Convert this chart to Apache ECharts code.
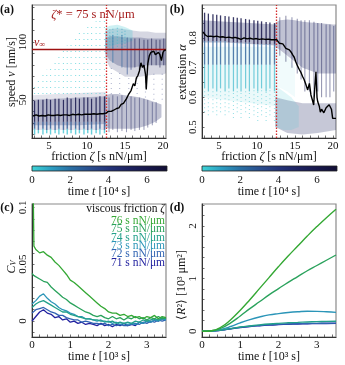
<!DOCTYPE html>
<html>
<head>
<meta charset="utf-8">
<script src="https://cdn.jsdelivr.net/npm/echarts@6/dist/echarts.min.js"></script>
<style>
html,body{margin:0;padding:0;background:#fff;}
#chart{width:345px;height:365px;}
</style>
</head>
<body>
<div id="chart"></div>
<script>
var FONT = 'Liberation Serif';

// ---- colour map of the time colour bar [10^4 s]
var cmapStops = [[0,'#3dd4d6'],[1,'#2c9fc2'],[2,'#2a70a4'],[3,'#2a4f8e'],[4,'#24347a'],[5,'#1d2361'],[6,'#17174b'],[7.05,'#110e34']];
var cbRange = [0, 7.05];
var cbTicks = [0, 2, 4, 6];

// ---- markers
var zetaStar = 12.5;
var vInf = 94;

// ---- panel (a): speed scatter, rows are [zeta, low, high, time]
var aLeftBand = [[2.8,28,50],[6,28,51],[9,28,52],[12.5,29,53]];
var aLeftHalo = [[2.8,24,54],[6,24,55],[9,24,56],[12.5,24,57]];
var aCoreL = [[3.1,31,49,5.8],[3.6,31,50,5.8],[4.2,31,50,5.8],[4.7,31,51,5.8],[5.2,31,50,5.8],[5.8,31,51,5.8],[6.3,31,51,5.8],[6.9,31,50,5.8],[7.4,31,52,5.8],[7.9,31,51,5.8],[8.5,31,52,5.8],[9.0,31,51,5.8],[9.6,31,52,5.8],[10.1,31,52,5.8],[10.6,31,51,5.8],[11.2,31,52,5.8],[11.7,31,53,5.8],[12.3,31,53,5.8]];
var aMidL = [[3.1,25,31,2.8],[3.6,24,31,2.8],[4.2,25,31,2.8],[4.7,24,31,2.8],[5.2,25,31,2.8],[5.8,24,31,2.8],[6.3,25,31,2.8],[6.9,24,31,2.8],[7.4,25,31,2.8],[7.9,24,31,2.8],[8.5,25,31,2.8],[9.0,24,31,2.8],[9.6,25,31,2.8],[10.1,24,31,2.8],[10.6,25,31,2.8],[11.2,24,31,2.8],[11.7,25,31,2.8],[12.3,24,31,2.8]];
var aFootL = [[3.1,20,25,0.4],[3.6,21,24,0.4],[4.2,20,25,0.4],[4.7,21,24,0.4],[5.2,20,25,0.4],[5.8,21,24,0.4],[6.3,20,25,0.4],[6.9,21,24,0.4],[7.4,20,25,0.4],[7.9,21,24,0.4],[8.5,20,25,0.4],[9.0,21,24,0.4],[9.6,20,25,0.4],[10.1,21,24,0.4],[10.6,20,25,0.4],[11.2,21,24,0.4],[11.7,20,25,0.4],[12.3,21,24,0.4]];
var aSparseL = [[3.1,55,64,0.2],[3.6,55,68,0.2],[4.2,55,72,0.2],[4.7,55,76,0.2],[5.2,55,80,0.2],[5.8,55,84,0.2],[6.3,55,88,0.2],[6.9,55,93,0.2],[7.4,55,97,0.2],[7.9,55,101,0.2],[8.5,55,105,0.2],[9.0,55,108,0.2],[9.6,55,111,0.2],[10.1,55,114,0.2],[10.6,55,116,0.2],[11.2,55,118,0.2],[11.7,55,120,0.2],[12.3,55,122,0.2]];
var aUpperOuter = [[12.4,86,109],[13,78,111],[14,74,112],[15,70,111],[16,70,110],[17,70,109],[18,71,109],[19,72,108],[20,72,108],[20.4,73,108]];
var aUpperInner = [[12.4,90,103],[13,84,105],[14,80,105],[15,78,104],[16,78,104],[17,79,104],[18,80,103],[19,80,103],[20,80,103],[20.4,80,103]];
var aUpperCyan = [[12.4,95,112],[13,96,114],[14,98,115],[15,99,113],[16,101,110]];
var aLowerBand = [[12.4,26,54],[13,25,55],[14,25,55],[15,25,54],[16,25,53],[17,26,52],[18,28,50],[19,31,48],[19.8,35,46]];
var aUpperStripes = [[13.4,82,106,2],[14.6,78,106,2.5],[15.3,72,104,3],[15.8,76,103,4],[16.3,78,103,5],[16.9,76,103,5.5],[17.5,77,102,5.5],[18.0,80,102,6],[18.5,80,103,6],[19.1,80,102,6],[19.6,78,102,6],[20.1,80,103,6]];
var aUpperCyanStripes = [[13.0,92,112,0.5],[13.4,95,113,0.8],[14.0,96,114,0.5],[14.6,95,112,1],[15.0,96,110,0.8]];
var aLowerStripes = [[12.9,22,52,5],[13.4,24,54,5.5],[14.0,22,53,5],[14.6,23,54,5.5],[15.2,22,52,5],[15.8,24,53,5.5],[16.3,23,52,5],[16.9,24,52,5.5],[17.5,24,51,5],[18.0,26,50,5.5],[18.6,28,48,5],[19.1,30,48,5]];
var aGapStripes = [[13.2,55,80,4],[14.3,55,76,4],[15.5,55,72,4],[16.6,55,72,4],[17.7,52,74,4],[18.8,50,74,4],[19.9,50,74,4]];
var aMedian = [[2.9,36],[3.3,37],[3.7,36],[4.1,36.5],[4.5,36],[4.9,37],[5.3,36.5],[5.7,36.5],[6.1,37],[6.5,36.5],[6.9,37],[7.3,37],[7.7,36.5],[8.1,37.5],[8.5,37],[8.9,37.5],[9.3,37],[9.7,37.5],[10.1,37.5],[10.5,37.5],[10.9,38],[11.3,37.5],[11.7,38],[12.1,38],[12.5,38.5],[12.8,40],[13.2,40],[13.5,41],[13.9,42.5],[14.2,43],[14.5,46],[14.8,47],[15.2,51],[15.5,55],[15.8,58],[16.1,64],[16.3,62],[16.5,69],[16.7,71],[16.9,75],[17.1,82],[17.3,78],[17.5,80],[17.7,72],[17.8,59],[18.0,81],[18.2,88],[18.4,91],[18.6,90],[18.8,92],[19.0,89],[19.2,90],[19.4,91],[19.6,89],[19.8,84],[20.0,91],[20.2,93],[20.4,93]];

// ---- panel (b): extension scatter
var bLeftBand = [[2.8,0.785,0.86],[6,0.785,0.855],[9,0.78,0.85],[12.5,0.775,0.845]];
var bLeftCyanHaze = [[2.8,0.60,0.77],[12.5,0.57,0.77]];
var bCoreL = [[3.1,0.79,0.885,6],[3.6,0.79,0.882,6],[4.2,0.79,0.88,6],[4.7,0.79,0.878,6],[5.2,0.79,0.876,6],[5.8,0.79,0.874,6],[6.3,0.785,0.872,6],[6.9,0.785,0.87,6],[7.4,0.785,0.868,6],[7.9,0.785,0.866,6],[8.5,0.785,0.864,6],[9.0,0.785,0.862,6],[9.6,0.78,0.86,6],[10.1,0.78,0.858,6],[10.6,0.78,0.856,6],[11.2,0.78,0.854,6],[11.7,0.78,0.852,6],[12.3,0.78,0.85,6]];
var bMidL = [[3.1,0.71,0.79,2.5],[3.6,0.71,0.79,2.5],[4.2,0.71,0.79,2.5],[4.7,0.71,0.79,2.5],[5.2,0.71,0.79,2.5],[5.8,0.71,0.79,2.5],[6.3,0.71,0.785,2.5],[6.9,0.71,0.785,2.5],[7.4,0.71,0.785,2.5],[7.9,0.71,0.785,2.5],[8.5,0.71,0.785,2.5],[9.0,0.71,0.785,2.5],[9.6,0.71,0.78,2.5],[10.1,0.71,0.78,2.5],[10.6,0.71,0.78,2.5],[11.2,0.71,0.78,2.5],[11.7,0.71,0.78,2.5],[12.3,0.71,0.78,2.5]];
var bCyanL = [[3.1,0.63,0.71,0.6],[3.6,0.62,0.71,0.6],[4.2,0.63,0.71,0.6],[4.7,0.62,0.71,0.6],[5.2,0.63,0.71,0.6],[5.8,0.62,0.71,0.6],[6.3,0.63,0.71,0.6],[6.9,0.62,0.71,0.6],[7.4,0.63,0.71,0.6],[7.9,0.62,0.71,0.6],[8.5,0.63,0.71,0.6],[9.0,0.62,0.71,0.6],[9.6,0.63,0.71,0.6],[10.1,0.62,0.71,0.6],[10.6,0.63,0.71,0.6],[11.2,0.62,0.71,0.6],[11.7,0.63,0.71,0.6],[12.3,0.62,0.71,0.6]];
var bSparseL = [[3.1,0.55,0.63,0.3],[3.6,0.54,0.62,0.3],[4.2,0.55,0.63,0.3],[4.7,0.54,0.62,0.3],[5.2,0.55,0.63,0.3],[5.8,0.54,0.62,0.3],[6.3,0.55,0.63,0.3],[6.9,0.53,0.62,0.3],[7.4,0.55,0.63,0.3],[7.9,0.53,0.62,0.3],[8.5,0.55,0.63,0.3],[9.0,0.53,0.62,0.3],[9.6,0.54,0.63,0.3],[10.1,0.52,0.62,0.3],[10.6,0.54,0.63,0.3],[11.2,0.52,0.62,0.3],[11.7,0.54,0.63,0.3],[12.3,0.52,0.62,0.3]];
var bUpperBand = [[12.4,0.77,0.85],[13,0.76,0.86],[14,0.74,0.862],[15,0.72,0.86],[16,0.70,0.855],[17,0.69,0.852],[18,0.68,0.85],[19,0.68,0.848],[20,0.68,0.845],[20.4,0.68,0.845]];
var bUpperStripes = [[13.0,0.74,0.87,5],[13.8,0.72,0.875,6],[14.6,0.70,0.87,5],[15.3,0.68,0.865,5.5],[15.8,0.66,0.86,5],[16.3,0.62,0.86,5.5],[16.9,0.62,0.86,5],[17.5,0.60,0.855,5.5],[18.0,0.62,0.85,5],[18.5,0.60,0.85,5.5],[19.1,0.60,0.845,5],[19.6,0.60,0.845,5.5],[20.1,0.62,0.84,5]];
var bLowerBand = [[12.4,0.50,0.60],[14,0.48,0.59],[16,0.475,0.58],[18,0.48,0.58],[20.4,0.49,0.58]];
var bLowerCyan = [[12.4,0.50,0.64],[13.5,0.49,0.62],[14.5,0.49,0.60],[15.5,0.50,0.57]];
var bMidCyan = [[12.4,0.64,0.77],[14,0.62,0.74],[15,0.60,0.70]];
var bMedian = [[2.9,0.82],[3.2,0.81],[3.5,0.805],[3.9,0.806],[4.3,0.804],[4.7,0.806],[5.1,0.803],[5.5,0.804],[5.9,0.801],[6.3,0.803],[6.7,0.8],[7.1,0.802],[7.5,0.799],[7.9,0.795],[8.3,0.8],[8.7,0.797],[9.1,0.799],[9.5,0.796],[9.9,0.798],[10.3,0.795],[10.7,0.797],[11.1,0.795],[11.5,0.796],[11.9,0.794],[12.3,0.794],[12.6,0.794],[12.95,0.782],[13.2,0.786],[13.4,0.78],[13.8,0.765],[14.0,0.77],[14.26,0.76],[14.5,0.752],[14.7,0.743],[14.9,0.735],[15.1,0.72],[15.35,0.705],[15.6,0.692],[15.8,0.683],[16.0,0.67],[16.2,0.66],[16.45,0.642],[16.67,0.625],[16.9,0.647],[17.1,0.608],[17.3,0.59],[17.46,0.574],[17.6,0.63],[17.76,0.686],[17.9,0.6],[18.0,0.585],[18.2,0.57],[18.34,0.55],[18.5,0.56],[18.65,0.563],[18.8,0.548],[18.95,0.55],[19.1,0.565],[19.3,0.563],[19.5,0.575],[19.66,0.58],[19.8,0.56],[19.96,0.529],[20.2,0.531],[20.4,0.529]];

// ---- panel (c): velocity autocorrelation C_V vs time [10^3 s]
var frictions = ['71', '72', '73', '74', '75', '76'];
var fricColors = ['#2222a0', '#3063b2', '#2b95b8', '#22a08a', '#2aa25c', '#34a834'];
var tC = [0,0.05,0.1,0.2,0.3,0.4,0.5,0.6,0.7,0.8,0.9,1.0,1.1,1.2,1.3,1.4,1.5,1.6,1.7,1.8,1.9,2.0,2.1,2.2,2.3,2.4,2.5,2.6,2.7,2.8,2.9,3.0,3.1,3.2,3.3,3.4,3.5];
var cv71 = [0.0,0.001,0.004,0.008,0.010,0.007,0.006,0.003,0.004,0.001,0.002,-0.001,0.000,-0.002,-0.001,-0.003,-0.002,-0.003,-0.004,-0.002,-0.004,-0.003,-0.005,-0.003,-0.004,-0.002,-0.004,-0.003,-0.004,-0.001,-0.002,0.000,-0.001,0.001,0.000,0.002,0.002];
var cv72 = [0.007,0.008,0.010,0.011,0.012,0.010,0.008,0.007,0.005,0.005,0.003,0.002,0.001,0.001,-0.001,0.000,-0.001,-0.002,-0.002,-0.003,-0.002,-0.004,-0.003,-0.004,-0.003,-0.004,-0.004,-0.003,-0.002,-0.003,-0.001,-0.002,0.000,-0.001,0.001,0.000,0.001];
var cv73 = [0.015,0.016,0.018,0.022,0.024,0.020,0.017,0.015,0.012,0.010,0.009,0.007,0.006,0.004,0.004,0.002,0.002,0.001,0.000,0.001,-0.001,0.000,-0.002,-0.001,-0.003,-0.002,-0.003,-0.002,-0.003,-0.001,-0.002,0.000,-0.001,0.001,0.000,0.002,0.001];
var cv74 = [0.012,0.013,0.015,0.017,0.018,0.016,0.014,0.012,0.010,0.008,0.008,0.006,0.005,0.004,0.003,0.002,0.002,0.001,0.001,0.000,0.000,-0.001,0.000,-0.002,-0.001,-0.002,-0.001,-0.002,0.000,-0.001,0.001,0.000,0.001,0.002,0.001,0.003,0.002];
var cv75 = [0.042,0.040,0.039,0.037,0.035,0.034,0.030,0.027,0.024,0.021,0.019,0.016,0.014,0.012,0.010,0.008,0.007,0.005,0.004,0.005,0.003,0.002,0.004,0.002,0.003,0.001,0.003,0.002,0.004,0.002,0.003,0.001,0.003,0.002,0.004,0.002,0.003];
var cv76 = [0.2,0.066,0.063,0.060,0.061,0.058,0.056,0.052,0.049,0.045,0.041,0.036,0.034,0.031,0.028,0.025,0.022,0.019,0.016,0.013,0.011,0.008,0.007,0.007,0.005,0.006,0.004,0.005,0.003,0.004,0.002,0.004,0.003,0.005,0.002,0.004,0.003];
var cvSeries = [cv71, cv72, cv73, cv74, cv75, cv76];

// ---- panel (d): mean square displacement <R^2> [10^3 um^2] vs time [10^3 s]
var tD = [0,0.25,0.5,0.75,1.0,1.25,1.5,1.75,2.0,2.25,2.5,2.75,3.0,3.25,3.5];
var r71 = [0,0.004,0.02,0.045,0.07,0.09,0.105,0.117,0.126,0.133,0.138,0.142,0.145,0.147,0.149];
var r72 = [0,0.004,0.021,0.047,0.074,0.095,0.11,0.122,0.131,0.138,0.143,0.147,0.15,0.152,0.154];
var r73 = [0,0.005,0.035,0.09,0.16,0.22,0.27,0.31,0.335,0.355,0.37,0.38,0.378,0.37,0.358];
var r74 = [0,0.004,0.022,0.05,0.08,0.1,0.12,0.137,0.15,0.16,0.168,0.176,0.182,0.187,0.19];
var r75 = [0,0.01,0.06,0.16,0.29,0.43,0.56,0.69,0.81,0.93,1.04,1.15,1.25,1.35,1.45];
var r76 = [0,0.01,0.08,0.22,0.40,0.60,0.81,1.02,1.23,1.43,1.62,1.81,1.99,2.16,2.32];
var rSeries = [r71, r72, r73, r74, r75, r76];

// ---- axes: [min, max, labelled ticks, all ticks]
function ticks(a, b, s) { var out = []; for (var v = a; v <= b + 1e-9; v += s) out.push(Math.round(v * 1e6) / 1e6); return out; }
var axA = { x: [2.76, 20.4, [5, 10, 15, 20], ticks(3, 20, 1)], y: [17, 132, [50, 100], ticks(20, 130, 10)] };
var axB = { x: [2.76, 20.4, [5, 10, 15, 20], ticks(3, 20, 1)], y: [0.463, 0.911, [0.5, 0.6, 0.7, 0.8], ticks(0.5, 0.9, 0.05)] };
var axCb = { x: [cbRange[0], cbRange[1], cbTicks, ticks(0, 7, 0.5)], y: [0, 1, [], []] };
var axC = { x: [0, 3.5, [0, 1, 2, 3], ticks(0, 3.4, 0.2)], y: [-0.014, 0.103, [0, 0.05, 0.1], ticks(-0.01, 0.1, 0.01)] };
var axD = { x: [0, 3.5, [0, 1, 2, 3], ticks(0, 3.4, 0.2)], y: [-0.11, 2.42, [0, 1, 2], ticks(0, 2.4, 0.2)] };
var axesSpec = [axA, axB, axCb, axCb, axC, axD];

var grids = [
  { left: 32, top: 5, width: 134, height: 133 },
  { left: 202, top: 5, width: 134, height: 133 },
  { left: 32, top: 166, width: 135, height: 5 },
  { left: 202, top: 166, width: 135, height: 5 },
  { left: 32, top: 204, width: 134, height: 133 },
  { left: 202, top: 204, width: 134, height: 133 }
];

function hex2rgb(h) { return [parseInt(h.substr(1, 2), 16), parseInt(h.substr(3, 2), 16), parseInt(h.substr(5, 2), 16)]; }
// colour of time t (10^4 s) on the colour bar, with alpha
function tColor(t, alpha) {
  for (var i = 1; i < cmapStops.length; i++) {
    if (t <= cmapStops[i][0] || i === cmapStops.length - 1) {
      var a = cmapStops[i - 1], b = cmapStops[i];
      var f = Math.max(0, Math.min(1, (t - a[0]) / (b[0] - a[0])));
      var ca = hex2rgb(a[1]), cb = hex2rgb(b[1]);
      var rgb = [0, 1, 2].map(function (k) { return Math.round(ca[k] + (cb[k] - ca[k]) * f); });
      return 'rgba(' + rgb.join(',') + ',' + (alpha == null ? 1 : alpha) + ')';
    }
  }
}

function makeAxis(g, spec, isY, isCb) {
  var hidden = isCb && isY;
  return {
    type: 'value', gridIndex: g, min: spec[0], max: spec[1], show: !hidden,
    position: isY ? 'left' : 'bottom',
    axisLine: { show: !isCb, onZero: false, lineStyle: { color: '#333', width: 1 } },
    axisTick: { show: true, inside: true, length: isCb ? 2 : 2.5, customValues: spec[3], lineStyle: { color: '#333', width: 0.7 } },
    axisLabel: { show: true, customValues: spec[2], fontFamily: FONT, fontSize: 11, color: '#111', margin: isCb ? 4 : 3, rotate: isY ? 90 : 0 },
    splitLine: { show: false }
  };
}

var xAxes = [], yAxes = [];
axesSpec.forEach(function (s, g) {
  var isCb = (g === 2 || g === 3);
  xAxes.push(makeAxis(g, s.x, false, isCb));
  yAxes.push(makeAxis(g, s.y, true, isCb));
});

function stripes(g, data, w, op, dash, z) {
  return {
    type: 'custom', xAxisIndex: g, yAxisIndex: g, silent: true, clip: true, data: data, z: z || 2,
    renderItem: function (p, api) {
      var a = api.coord([api.value(0), api.value(1)]), b = api.coord([api.value(0), api.value(2)]);
      return { type: 'line', shape: { x1: a[0], y1: a[1], x2: b[0], y2: b[1] },
        style: { stroke: tColor(api.value(3), op), fill: null, lineWidth: w, lineDash: dash || null } };
    }
  };
}

function band(g, pts, t, op, z) {
  return {
    type: 'custom', xAxisIndex: g, yAxisIndex: g, silent: true, clip: true, data: pts, z: z || 1,
    renderItem: function (p, api) {
      if (p.dataIndex !== 0) return null;
      var top = [], bot = [];
      pts.forEach(function (d) { top.push(api.coord([d[0], d[2]])); bot.unshift(api.coord([d[0], d[1]])); });
      return { type: 'polygon', shape: { points: top.concat(bot) }, style: { fill: tColor(t, op), stroke: null } };
    }
  };
}

function colorBar(g) {
  return {
    type: 'custom', xAxisIndex: g, yAxisIndex: g, silent: true, data: [cbRange], z: 1,
    renderItem: function (p, api) {
      var a = api.coord([api.value(0), 0]), b = api.coord([api.value(1), 1]);
      return { type: 'rect', shape: { x: a[0], y: b[1], width: b[0] - a[0], height: a[1] - b[1] },
        style: { fill: { type: 'linear', x: 0, y: 0, x2: 1, y2: 0,
          colorStops: cmapStops.map(function (s) { return { offset: s[0] / cbRange[1], color: s[1] }; }) },
          stroke: '#222', lineWidth: 0.8 } };
    }
  };
}

function median(g, data, marks) {
  return {
    type: 'line', xAxisIndex: g, yAxisIndex: g, data: data, showSymbol: false, symbol: 'none', silent: true,
    lineStyle: { color: '#000', width: 1.4 }, z: 6,
    markLine: { silent: true, symbol: 'none', label: { show: false }, data: marks, animation: false }
  };
}

function curve(g, xs, ys, color, w, smooth) {
  return {
    type: 'line', xAxisIndex: g, yAxisIndex: g, silent: true, showSymbol: false, symbol: 'none', smooth: smooth,
    data: xs.map(function (x, i) { return [x, ys[i]]; }), lineStyle: { color: color, width: w }, z: 5, clip: true
  };
}

var zMark = { xAxis: zetaStar, lineStyle: { type: [1.5, 1.5], color: '#d42a2a', width: 1.3 } };
var vMark = { yAxis: vInf, lineStyle: { type: 'solid', color: '#9e1010', width: 1.3 } };

var series = [
  // (a)
  band(0, aLeftHalo, 5, 0.12),
  band(0, aLeftBand, 5, 0.25),
  band(0, aUpperOuter, 5, 0.18),
  band(0, aUpperInner, 5, 0.25),
  band(0, aUpperCyan, 0.3, 0.25),
  band(0, aLowerBand, 5, 0.28),
  stripes(0, aSparseL, 1.1, 0.6, [1, 5]),
  stripes(0, aGapStripes, 1.1, 0.35, [1, 4]),
  stripes(0, aFootL, 1.4, 0.75),
  stripes(0, aMidL, 1.4, 0.8),
  stripes(0, aCoreL, 1.2, 0.85),
  stripes(0, aLowerStripes, 1.0, 0.45),
  stripes(0, aUpperCyanStripes, 1.1, 0.6, [1, 2]),
  stripes(0, aUpperStripes, 1.1, 0.55),
  median(0, aMedian, [zMark, vMark]),
  // (b)
  band(1, bLeftCyanHaze, 0.3, 0.1),
  band(1, bLeftBand, 5, 0.3),
  band(1, bMidCyan, 0.3, 0.07),
  band(1, bUpperBand, 5, 0.28),
  band(1, bLowerBand, 5, 0.25),
  band(1, bLowerCyan, 0.3, 0.15),
  stripes(1, bSparseL, 1.1, 0.5, [1, 3]),
  stripes(1, bCyanL, 1.2, 0.65),
  stripes(1, bMidL, 1.3, 0.8),
  stripes(1, bCoreL, 1.3, 0.85),
  stripes(1, bUpperStripes, 1.1, 0.45),
  median(1, bMedian, [zMark]),
  // colour bars
  colorBar(2),
  colorBar(3)
];
cvSeries.forEach(function (ys, i) { series.push(curve(4, tC, ys, fricColors[i], 1.3, false)); });
rSeries.forEach(function (ys, i) { series.push(curve(5, tD, ys, fricColors[i], 1.4, true)); });

// ---- texts
function rich(size, color) {
  return {
    n: { fontFamily: FONT, fontSize: size, fill: color },
    i: { fontFamily: FONT, fontSize: size, fontStyle: 'italic', fill: color },
    b: { fontFamily: FONT, fontSize: size, fontWeight: 'bold', fill: color },
    sub: { fontFamily: FONT, fontSize: size * 0.7, fill: color, verticalAlign: 'bottom' },
    isub: { fontFamily: FONT, fontSize: size * 0.7, fontStyle: 'italic', fill: color, verticalAlign: 'bottom' }
  };
}
function txt(x, y, text, opts) {
  opts = opts || {};
  var size = opts.size || 12, color = opts.color || '#111';
  return {
    type: 'text', x: x, y: y, rotation: opts.rot ? Math.PI / 2 : 0, silent: true, z: 20,
    style: { text: text, rich: rich(size, color), fontFamily: FONT, fontSize: size, fill: color,
      align: opts.align || 'center', verticalAlign: 'middle' }
  };
}

var graphics = [
  txt(7, 10, '{b|(a)}', { size: 12 }),
  txt(177, 10, '{b|(b)}', { size: 12 }),
  txt(7, 208, '{b|(c)}', { size: 12 }),
  txt(177, 208, '{b|(d)}', { size: 12 }),
  txt(12, 72, '{n|speed }{i|v}{n| [nm/s]}', { rot: true }),
  txt(183, 72, '{n|extension }{i|α}', { rot: true }),
  txt(99, 157, '{n|friction }{i|ζ}{n| [s nN/μm]}'),
  txt(269, 157, '{n|friction }{i|ζ}{n| [s nN/μm]}'),
  txt(99, 192, '{n|time }{i|t}{n| [10⁴ s]}'),
  txt(269, 192, '{n|time }{i|t}{n| [10⁴ s]}'),
  txt(99, 357, '{n|time }{i|t}{n| [10³ s]}'),
  txt(269, 357, '{n|time }{i|t}{n| [10³ s]}'),
  txt(12, 267, '{i|C}{isub|V}', { rot: true }),
  txt(182, 285, '{n|⟨}{i|R}{n|²⟩ [10³ μm²]}', { rot: true }),
  txt(93, 15, '{i|ζ}{n|* = 75 s nN/μm}', { size: 12.5, color: '#a51d1d' }),
  txt(34, 43, '{i|v}{sub|∞}', { size: 12, color: '#a51d1d', align: 'left' }),
  txt(165, 209, '{n|viscous friction }{i|ζ}', { size: 11.5, align: 'right' })
];
for (var k = frictions.length - 1; k >= 0; k--) {
  var row = frictions.length - 1 - k;
  graphics.push(txt(165, 221 + row * 8.3, '{n|' + frictions[k] + ' s nN/μm}', { size: 11.5, color: fricColors[k], align: 'right' }));
}

var chart = echarts.init(document.getElementById('chart'), null, { renderer: 'canvas' });
chart.setOption({
  animation: false,
  backgroundColor: '#fff',
  grid: grids.map(function (g, i) {
    var isCb = (i === 2 || i === 3);
    return Object.assign({ show: !isCb, borderColor: '#8a8a8a', borderWidth: 1.2, containLabel: false }, g);
  }),
  xAxis: xAxes,
  yAxis: yAxes,
  series: series,
  graphic: graphics
});
</script>
</body>
</html>
